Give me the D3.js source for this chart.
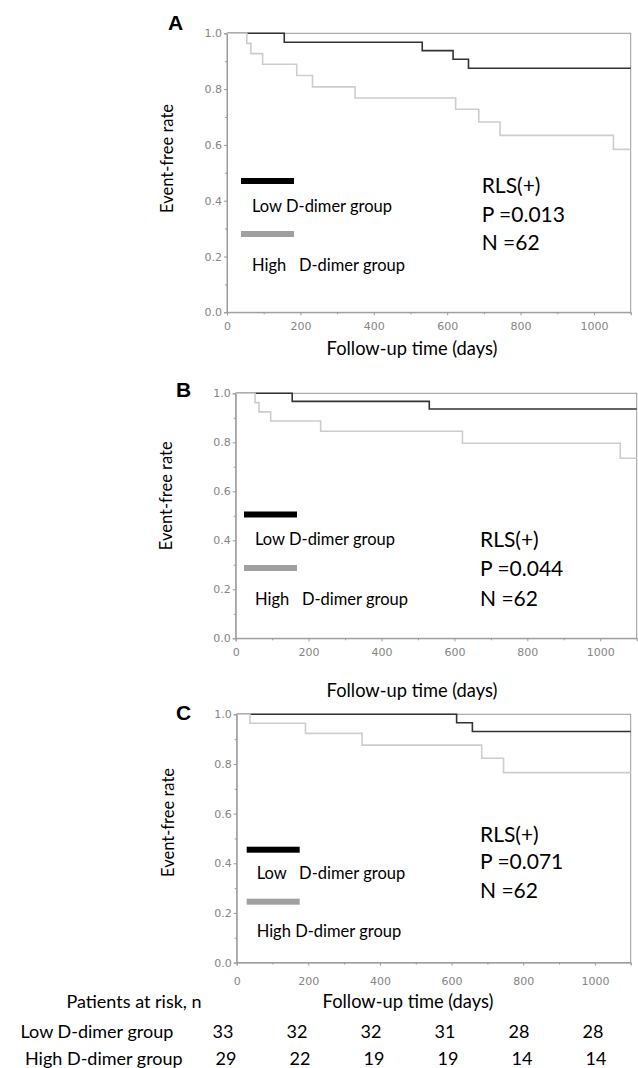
<!DOCTYPE html>
<html>
<head>
<meta charset="utf-8">
<script src="https://cdn.jsdelivr.net/npm/d3@7"></script>
<style>
  body { margin: 0; background: #fff; }
  svg { display: block; }
  text { white-space: pre; }
</style>
</head>
<body>
<svg id="chart" width="638" height="1068"></svg>
<script>
// ---- Kaplan–Meier step data (time in days, event-free rate) ----
const lowTimesA  = [0, 156, 532, 616, 658, 1100];
const lowRatesA  = [1, 0.968, 0.938, 0.907, 0.875, 0.875];
const highTimesA = [0, 54, 65, 97, 190, 233, 349, 623, 686, 744, 1053, 1100];
const highRatesA = [1, 0.964, 0.927, 0.889, 0.849, 0.808, 0.768, 0.728, 0.682, 0.634, 0.584, 0.584];

const lowTimesB  = [0, 155, 531, 1100];
const lowRatesB  = [1, 0.967, 0.936, 0.936];
const highTimesB = [0, 53, 64, 96, 233, 622, 1055, 1100];
const highRatesB = [1, 0.962, 0.924, 0.887, 0.845, 0.796, 0.735, 0.735];

const lowTimesC  = [0, 614, 658, 1100];
const lowRatesC  = [1, 0.966, 0.931, 0.931];
const highTimesC = [0, 37, 192, 350, 684, 745, 1100];
const highRatesC = [1, 0.964, 0.923, 0.876, 0.823, 0.765, 0.765];

// ---- Panel annotations ----
const panelLetters = ["A", "B", "C"];
const pValues = ["0.013", "0.044", "0.071"];
const nValues = [62, 62, 62];
const lowLegend  = ["Low D-dimer group", "Low D-dimer group", "Low   D-dimer group"];
const highLegend = ["High   D-dimer group", "High   D-dimer group", "High D-dimer group"];

// ---- Axes ----
const xDomain = [0, 1100];
const xMajorTicks = [0, 200, 400, 600, 800, 1000];
const xMinorTicks = [100, 300, 500, 700, 900, 1100];
const yMajorTicks = [0, 0.2, 0.4, 0.6, 0.8, 1.0];
const yMinorTicks = [0.1, 0.3, 0.5, 0.7, 0.9];

// ---- Numbers at risk ----
const riskTimes = [0, 200, 400, 600, 800, 1000];
const riskLow  = [33, 32, 32, 31, 28, 28];
const riskHigh = [29, 22, 19, 19, 14, 14];

// ---- Layout of the three panels ----
const layout = [
  { x0: 227, x1: 630.7, yTop: 33.3, yBot: 312.3, letter: [168, 30], yLab: [173, 158.5],
    xLab: [412, 355], tickBase: 330, barX: 241, bar1Y: 181, text1Y: 211.7, bar2Y: 234, text2Y: 270.7,
    textX: 252, statX: 481.7, statY: [193, 221.7, 250] },
  { x0: 235.7, x1: 636.7, yTop: 393.3, yBot: 638.3, letter: [176, 396.7], yLab: [172.3, 495.8],
    xLab: [412, 696.7], tickBase: 655.7, barX: 244, bar1Y: 514.5, text1Y: 545, bar2Y: 568, text2Y: 605,
    textX: 255, statX: 480, statY: [546.7, 575.7, 605.7] },
  { x0: 236.7, x1: 630.7, yTop: 714.3, yBot: 962.6, letter: [176, 720], yLab: [174, 822.5],
    xLab: [408, 1008.3], tickBase: 985, barX: 246.7, bar1Y: 849.7, text1Y: 879.3, bar2Y: 901.7, text2Y: 937.3,
    textX: 256.7, statX: 480, statY: [841.7, 869, 898.3] }
];

const series = [
  { low: [lowTimesA, lowRatesA], high: [highTimesA, highRatesA] },
  { low: [lowTimesB, lowRatesB], high: [highTimesB, highRatesB] },
  { low: [lowTimesC, lowRatesC], high: [highTimesC, highRatesC] }
];

const TEXT_FONT = "Lato, 'Open Sans', sans-serif";
const TICK_FONT = "'DejaVu Sans', Verdana, sans-serif";
const AXIS_GREY = "#9a9a9a";
const LOW_COLOR = "#333333";
const HIGH_COLOR = "#cdcdcd";

const svg = d3.select("#chart");

layout.forEach((L, i) => {
  const x = d3.scaleLinear().domain(xDomain).range([L.x0, L.x1]);
  const y = d3.scaleLinear().domain([0, 1]).range([L.yBot, L.yTop]);
  const g = svg.append("g").attr("class", "panel-" + panelLetters[i]);

  // plot frame
  g.append("rect")
    .attr("x", L.x0).attr("y", L.yTop)
    .attr("width", L.x1 - L.x0).attr("height", L.yBot - L.yTop)
    .attr("fill", "none").attr("stroke", AXIS_GREY).attr("stroke-width", 1);

  // y axis
  g.append("g").attr("transform", `translate(${L.x0},0)`)
    .call(d3.axisLeft(y).tickValues(yMajorTicks).tickSize(3).tickPadding(2).tickFormat(d3.format(".1f")));
  g.append("g").attr("transform", `translate(${L.x0},0)`)
    .call(d3.axisLeft(y).tickValues(yMinorTicks).tickSize(2).tickFormat(""))
    .call(a => a.select(".domain").remove());

  // x axis
  const xAxis = g.append("g").attr("transform", `translate(0,${L.yBot})`)
    .call(d3.axisBottom(x).tickValues(xMajorTicks).tickSize(3).tickFormat(d3.format("d")));
  xAxis.selectAll("text").attr("y", L.tickBase - L.yBot).attr("dy", null);
  g.append("g").attr("transform", `translate(0,${L.yBot})`)
    .call(d3.axisBottom(x).tickValues(xMinorTicks).tickSize(2).tickFormat(""))
    .call(a => a.select(".domain").remove());

  g.selectAll(".domain").attr("stroke", AXIS_GREY);
  g.selectAll(".tick line").attr("stroke", AXIS_GREY);
  g.selectAll(".tick text")
    .attr("fill", "#858585").style("font-family", TICK_FONT).style("font-size", "11px");

  // survival curves (high group drawn over low group)
  const step = d3.line().curve(d3.curveStepAfter).x(d => x(d[0])).y(d => y(d[1]));
  const pts = ([t, r]) => t.map((v, k) => [v, r[k]]);
  g.append("path").datum(pts(series[i].low))
    .attr("d", step).attr("fill", "none").attr("stroke", LOW_COLOR).attr("stroke-width", 1.6);
  g.append("path").datum(pts(series[i].high))
    .attr("d", step).attr("fill", "none").attr("stroke", HIGH_COLOR).attr("stroke-width", 1.6);

  // panel letter
  g.append("text").attr("x", L.letter[0]).attr("y", L.letter[1])
    .style("font-family", "'Liberation Sans', Arial, sans-serif").style("font-weight", "bold")
    .style("font-size", "21px").text(panelLetters[i]);

  // axis titles
  g.append("text").attr("transform", `translate(${L.yLab[0]},${L.yLab[1]}) rotate(-90)`)
    .attr("text-anchor", "middle")
    .style("font-family", TEXT_FONT).style("font-size", "16.5px").text("Event-free rate");
  g.append("text").attr("x", L.xLab[0]).attr("y", L.xLab[1]).attr("text-anchor", "middle")
    .style("font-family", TEXT_FONT).style("font-size", "18.3px").text("Follow-up time (days)");

  // legend
  g.append("rect").attr("x", L.barX).attr("y", L.bar1Y - 3).attr("width", 53).attr("height", 6).attr("fill", "#000");
  g.append("rect").attr("x", L.barX).attr("y", L.bar2Y - 3).attr("width", 53).attr("height", 6).attr("fill", "#a0a0a0");
  g.append("text").attr("x", L.textX).attr("y", L.text1Y)
    .style("font-family", TEXT_FONT).style("font-size", "16.5px").text(lowLegend[i]);
  g.append("text").attr("x", L.textX).attr("y", L.text2Y)
    .style("font-family", TEXT_FONT).style("font-size", "16.5px").text(highLegend[i]);

  // statistics
  const stats = ["RLS(+)", "P =" + pValues[i], "N =" + nValues[i]];
  g.selectAll(".stat").data(stats).join("text").attr("class", "stat")
    .attr("x", L.statX).attr("y", (d, k) => L.statY[k])
    .style("font-family", TEXT_FONT).style("font-size", "21px").text(d => d);
});

// ---- Numbers at risk table ----
const col = d3.scalePoint().domain(riskTimes).range([223, 593]);
const table = svg.append("g").attr("class", "risk-table")
  .style("font-family", TEXT_FONT).style("font-size", "18px");
table.append("text").attr("x", 134).attr("y", 1008.3).attr("text-anchor", "middle").text("Patients at risk, n");
table.append("text").attr("x", 20.5).attr("y", 1037.7).text("Low D-dimer group");
table.append("text").attr("x", 25).attr("y", 1065).text("High D-dimer group");
table.selectAll(".low").data(riskLow).join("text").attr("class", "low")
  .attr("x", (d, k) => col(riskTimes[k])).attr("y", 1037.7).attr("text-anchor", "middle").text(d => d);
table.selectAll(".high").data(riskHigh).join("text").attr("class", "high")
  .attr("x", (d, k) => col(riskTimes[k]) + 3).attr("y", 1065).attr("text-anchor", "middle").text(d => d);
</script>
</body>
</html>
